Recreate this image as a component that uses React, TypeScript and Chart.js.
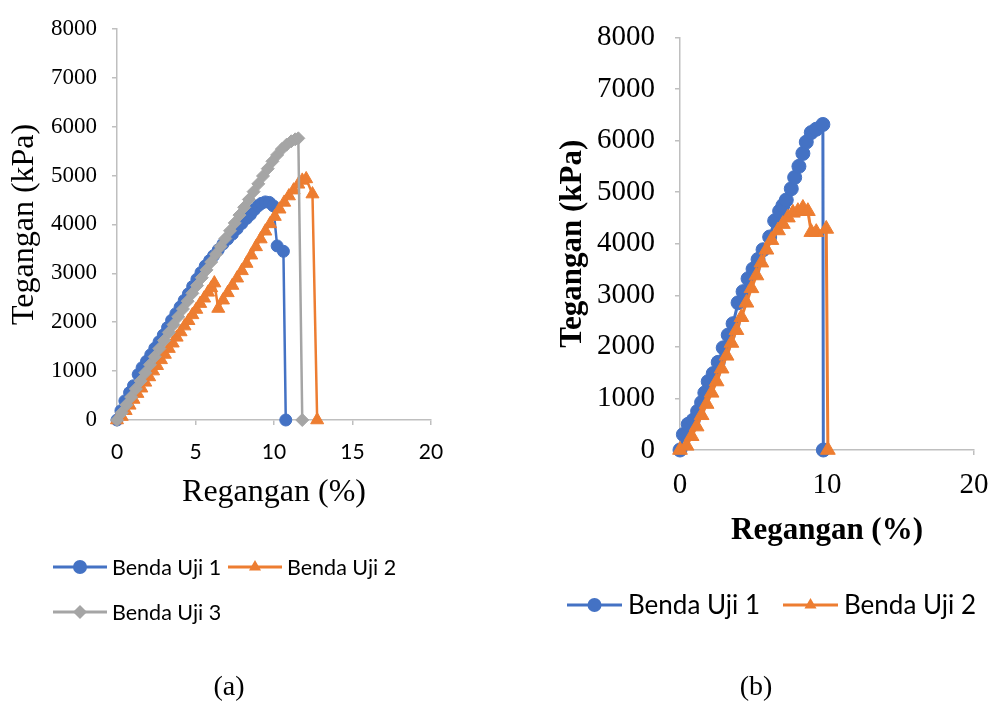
import React, { useEffect, useRef } from 'react';
import { Chart, registerables } from 'chart.js';

Chart.register(...registerables);

const SERIF = '"Liberation Serif", "Times New Roman", serif';
const SANS = 'Lato, "Noto Sans", sans-serif';
const BLUE = '#4472C4';
const ORANGE = '#ED7D31';
const GRAY = '#A5A5A5';
const AXIS = '#BFBFBF';

// ---------- Data: panel (a) ----------
const strainA1 = [0, 0.25, 0.5, 0.8, 1.05, 1.35, 1.6, 1.88, 2.15, 2.41, 2.68, 2.95, 3.22, 3.48, 3.75, 4.02, 4.28, 4.55, 4.82, 5.09, 5.35, 5.62, 5.9, 6.15, 6.45, 6.75, 7.05, 7.35, 7.65, 7.95, 8.25, 8.5, 8.75, 9.0, 9.2, 9.45, 9.7, 9.95, 10.2, 10.6, 10.75];
const stressA1 = [0, 190, 390, 560, 700, 930, 1070, 1200, 1335, 1468, 1600, 1737, 1890, 2040, 2175, 2310, 2445, 2580, 2730, 2880, 3015, 3150, 3260, 3360, 3480, 3600, 3700, 3800, 3910, 4020, 4120, 4200, 4300, 4380, 4430, 4460, 4450, 4380, 3560, 3450, 0];

const strainA2 = [0, 0.3, 0.55, 0.8, 1.05, 1.3, 1.55, 1.8, 2.05, 2.3, 2.55, 2.8, 3.05, 3.3, 3.55, 3.8, 4.05, 4.3, 4.55, 4.8, 5.05, 5.3, 5.55, 5.8, 6.0, 6.2, 6.45, 6.75, 7.05, 7.35, 7.65, 7.95, 8.25, 8.55, 8.85, 9.15, 9.45, 9.75, 10.05, 10.35, 10.65, 10.95, 11.25, 11.55, 11.8, 12.05, 12.45, 12.75];
const stressA2 = [0, 70, 190, 300, 420, 540, 650, 770, 880, 1000, 1110, 1230, 1340, 1460, 1570, 1690, 1800, 1920, 2030, 2150, 2260, 2380, 2490, 2610, 2700, 2800, 2280, 2450, 2600, 2750, 2900, 3050, 3200, 3370, 3540, 3700, 3860, 4010, 4160, 4310, 4450, 4580, 4700, 4820, 4900, 4930, 4620, 0];

const strainA3 = [0, 0.3, 0.6, 0.9, 1.2, 1.5, 1.8, 2.1, 2.4, 2.7, 3.0, 3.3, 3.6, 3.9, 4.2, 4.5, 4.8, 5.1, 5.4, 5.7, 6.0, 6.3, 6.6, 6.9, 7.2, 7.5, 7.8, 8.1, 8.4, 8.7, 9.0, 9.3, 9.6, 9.9, 10.2, 10.5, 10.8, 11.1, 11.35, 11.55, 11.8];
const stressA3 = [0, 150, 310, 470, 635, 800, 965, 1130, 1295, 1460, 1625, 1790, 1950, 2110, 2270, 2430, 2590, 2750, 2910, 3070, 3230, 3390, 3550, 3710, 3870, 4030, 4190, 4350, 4510, 4670, 4830, 4990, 5140, 5290, 5420, 5540, 5630, 5700, 5740, 5760, 0];

// ---------- Data: panel (b) ----------
const strainB1 = [0, 0.23, 0.56, 0.9, 1.2, 1.47, 1.69, 1.92, 2.26, 2.6, 2.94, 3.28, 3.61, 3.95, 4.29, 4.63, 4.97, 5.31, 5.65, 6.1, 6.44, 6.78, 7.0, 7.23, 7.57, 7.8, 8.09, 8.36, 8.59, 8.93, 9.27, 9.72, 9.75];
const stressB1 = [0, 300, 500, 579, 750, 921, 1108, 1327, 1482, 1700, 1981, 2230, 2449, 2854, 3070, 3321, 3508, 3695, 3882, 4130, 4443, 4630, 4740, 4847, 5065, 5284, 5500, 5750, 5970, 6155, 6220, 6312, 0];

const strainB2 = [0, 0.45, 0.79, 1.13, 1.47, 1.81, 2.15, 2.49, 2.83, 3.17, 3.5, 3.84, 4.18, 4.52, 4.86, 5.2, 5.54, 5.88, 6.22, 6.67, 7.0, 7.34, 7.68, 8.02, 8.36, 8.7, 8.93, 9.27, 9.95, 10.06];
const stressB2 = [0, 80, 267, 454, 673, 891, 1108, 1327, 1576, 1826, 2075, 2323, 2574, 2854, 3134, 3383, 3632, 3882, 4069, 4256, 4380, 4505, 4598, 4630, 4692, 4630, 4224, 4224, 4286, 0];

const seriesNames = ['Benda Uji 1', 'Benda Uji 2', 'Benda Uji 3'];
const xTitle = 'Regangan (%)';
const yTitle = 'Tegangan (kPa)';
const captions = ['(a)', '(b)'];

function toPoints(xs: number[], ys: number[]) {
  return xs.map((x, i) => ({ x, y: ys[i] }));
}

type Marker = 'circle' | 'triangle' | 'diamond';

function drawMarker(ctx: CanvasRenderingContext2D, m: Marker, x: number, y: number, r: number, color: string) {
  ctx.save();
  ctx.fillStyle = color;
  ctx.beginPath();
  if (m === 'circle') {
    ctx.arc(x, y, r, 0, Math.PI * 2);
  } else if (m === 'triangle') {
    ctx.moveTo(x, y - r);
    ctx.lineTo(x + r * 0.866, y + r * 0.5);
    ctx.lineTo(x - r * 0.866, y + r * 0.5);
    ctx.closePath();
  } else {
    ctx.moveTo(x - r, y);
    ctx.lineTo(x, y - r);
    ctx.lineTo(x + r, y);
    ctx.lineTo(x, y + r);
    ctx.closePath();
  }
  ctx.fill();
  ctx.restore();
}

type LegendEntry = { label: string; color: string; marker: Marker; x: number; y: number };

function legendPlugin(entries: LegendEntry[], font: string, lineLen: number, gap: number, r: number, baseOff: number, caption: string, capX: number, capY: number, capFont: string) {
  return {
    id: 'customLegend',
    afterDraw(chart: any) {
      const ctx: CanvasRenderingContext2D = chart.ctx;
      ctx.save();
      for (const e of entries) {
        ctx.strokeStyle = e.color;
        ctx.lineWidth = 3;
        ctx.beginPath();
        ctx.moveTo(e.x, e.y);
        ctx.lineTo(e.x + lineLen, e.y);
        ctx.stroke();
        drawMarker(ctx, e.marker, e.x + lineLen / 2, e.y, r, e.color);
        ctx.fillStyle = '#000';
        ctx.font = font;
        ctx.textAlign = 'left';
        ctx.textBaseline = 'alphabetic';
        ctx.fillText(e.label, e.x + lineLen + gap, e.y + baseOff);
      }
      ctx.font = capFont;
      ctx.fillStyle = '#000';
      ctx.textAlign = 'center';
      ctx.textBaseline = 'alphabetic';
      ctx.fillText(caption, capX, capY);
      ctx.restore();
    },
  };
}

function axisGrid() {
  return { display: true, drawOnChartArea: false, drawTicks: true, tickLength: 5, color: AXIS, lineWidth: 1.5 };
}

const plainNum = (v: any) => String(v);

function buildA(): any {
  const ds = (label: string, xs: number[], ys: number[], color: string, style: string, r: number, order: number) => ({
    label,
    data: toPoints(xs, ys),
    showLine: true,
    borderColor: color,
    backgroundColor: color,
    borderWidth: 2.5,
    pointStyle: style,
    pointRadius: r,
    pointBorderWidth: 1,
    pointBorderColor: color,
    pointBackgroundColor: color,
    order,
    clip: false,
    tension: 0,
  });
  return {
    type: 'scatter',
    data: {
      datasets: [
        ds(seriesNames[0], strainA1, stressA1, BLUE, 'circle', 6, 3),
        ds(seriesNames[1], strainA2, stressA2, ORANGE, 'triangle', 7.5, 2),
        ds(seriesNames[2], strainA3, stressA3, GRAY, 'rectRot', 6.5, 1),
      ],
    },
    options: {
      animation: false,
      responsive: false,
      maintainAspectRatio: false,
      layout: { padding: { left: 0, top: 23, right: 49, bottom: 190 } },
      plugins: { legend: { display: false }, tooltip: { enabled: false } },
      scales: {
        x: {
          type: 'linear',
          min: 0,
          max: 20,
          ticks: { stepSize: 5, color: '#000', padding: 15, font: { family: SANS, size: 21 }, callback: plainNum },
          grid: axisGrid(),
          border: { display: true, color: AXIS, width: 1.5 },
          title: { display: true, text: xTitle, color: '#000', padding: 0, font: { family: SERIF, size: 32 } },
          afterFit: (s: any) => { s.height = 92; },
        },
        y: {
          type: 'linear',
          min: 0,
          max: 8000,
          ticks: { stepSize: 1000, color: '#000', padding: 15, font: { family: SERIF, size: 23 }, callback: plainNum },
          grid: axisGrid(),
          border: { display: true, color: AXIS, width: 1.5 },
          title: { display: true, text: yTitle, color: '#000', padding: { top: 5, bottom: 0 }, font: { family: SERIF, size: 32 } },
          afterFit: (s: any) => { s.width = 117; },
        },
      },
    },
    plugins: [
      legendPlugin(
        [
          { label: seriesNames[0], color: BLUE, marker: 'circle', x: 53, y: 567 },
          { label: seriesNames[1], color: ORANGE, marker: 'triangle', x: 228, y: 567 },
          { label: seriesNames[2], color: GRAY, marker: 'diamond', x: 53, y: 612 },
        ],
        `21.5px ${SANS}`, 54, 5, 7, 7.5,
        captions[0], 229, 695, `28px ${SERIF}`
      ),
    ],
  };
}

function buildB(): any {
  const ds = (label: string, xs: number[], ys: number[], color: string, style: string, r: number, order: number) => ({
    label,
    data: toPoints(xs, ys),
    showLine: true,
    borderColor: color,
    backgroundColor: color,
    borderWidth: 3,
    pointStyle: style,
    pointRadius: r,
    pointBorderWidth: 1,
    pointBorderColor: color,
    pointBackgroundColor: color,
    order,
    clip: false,
    tension: 0,
  });
  return {
    type: 'scatter',
    data: {
      datasets: [
        ds(seriesNames[0], strainB1, stressB1, BLUE, 'circle', 7, 2),
        ds(seriesNames[1], strainB2, stressB2, ORANGE, 'triangle', 8.5, 1),
      ],
    },
    options: {
      animation: false,
      responsive: false,
      maintainAspectRatio: false,
      layout: { padding: { left: 0, top: 23, right: 36, bottom: 152 } },
      plugins: { legend: { display: false }, tooltip: { enabled: false } },
      scales: {
        x: {
          type: 'linear',
          min: 0,
          max: 20,
          ticks: { stepSize: 10, color: '#000', padding: 13, font: { family: SERIF, size: 29 }, callback: plainNum },
          grid: axisGrid(),
          border: { display: true, color: AXIS, width: 1.5 },
          title: { display: true, text: xTitle, color: '#000', padding: 0, font: { family: SERIF, size: 31, weight: 'bold' } },
          afterFit: (s: any) => { s.height = 100; },
        },
        y: {
          type: 'linear',
          min: 0,
          max: 8000,
          ticks: { stepSize: 1000, color: '#000', padding: 20, font: { family: SERIF, size: 29 }, callback: plainNum },
          grid: axisGrid(),
          border: { display: true, color: AXIS, width: 1.5 },
          title: { display: true, text: yTitle, color: '#000', padding: { top: 74, bottom: 0 }, font: { family: SERIF, size: 31, weight: 'bold' } },
          afterFit: (s: any) => { s.width = 200; },
        },
      },
    },
    plugins: [
      legendPlugin(
        [
          { label: seriesNames[0], color: BLUE, marker: 'circle', x: 87, y: 605 },
          { label: seriesNames[1], color: ORANGE, marker: 'triangle', x: 303, y: 605 },
        ],
        `26px ${SANS}`, 55, 6, 7, 9,
        captions[1], 276, 695, `28px ${SERIF}`
      ),
    ],
  };
}

function Panel({ build, left, width }: { build: () => any; left: number; width: number }) {
  const ref = useRef<HTMLCanvasElement | null>(null);
  useEffect(() => {
    if (!ref.current) return;
    const chart = new Chart(ref.current, build());
    return () => chart.destroy();
  }, [build]);
  return (
    <canvas
      ref={ref}
      width={width}
      height={702}
      style={{ position: 'absolute', left, top: 0, width, height: 702 }}
    />
  );
}

export default function App() {
  useEffect(() => {
    document.body.style.margin = '0';
  }, []);
  return (
    <div style={{ position: 'absolute', left: 0, top: 0, width: 995, height: 702, background: '#fff', overflow: 'hidden' }}>
      <Panel build={buildA} left={0} width={480} />
      <Panel build={buildB} left={480} width={530} />
    </div>
  );
}
